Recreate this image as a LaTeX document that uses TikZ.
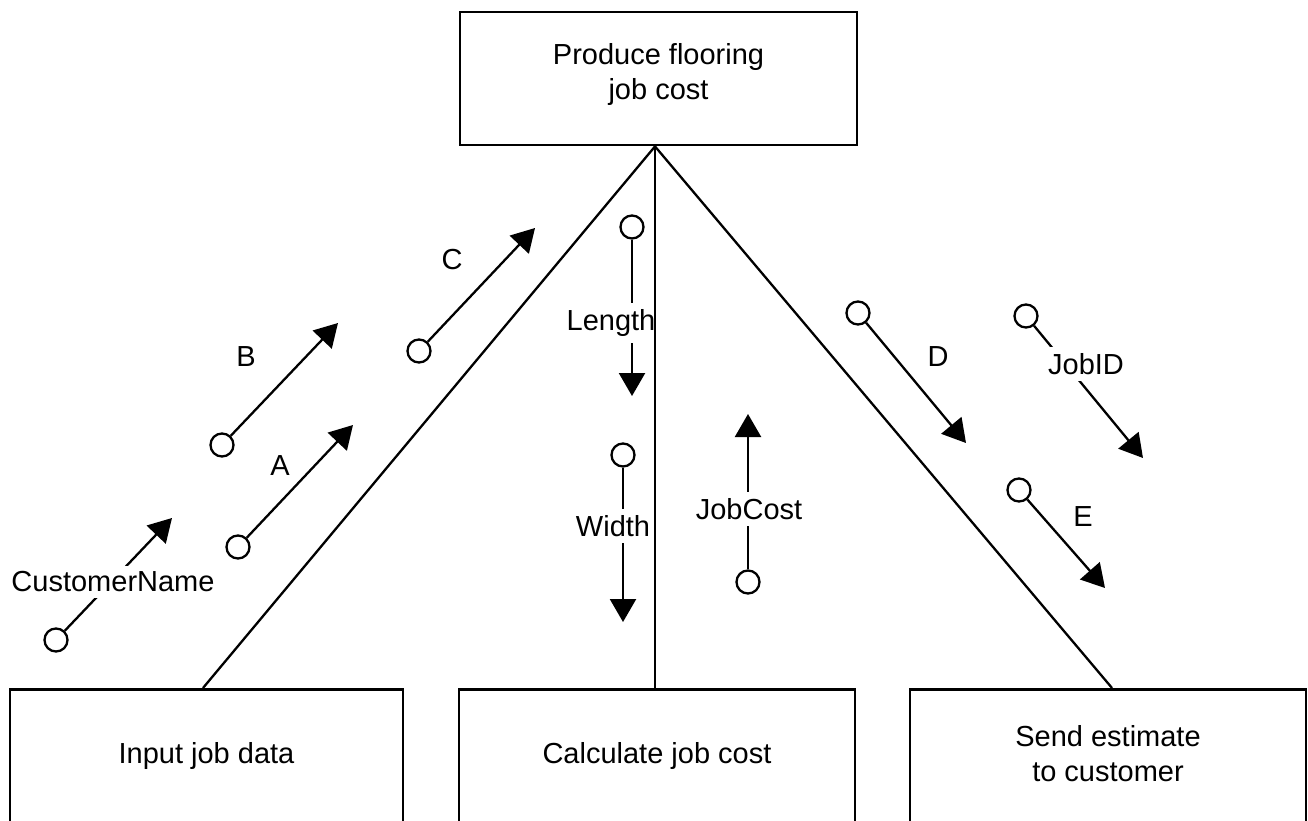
\documentclass[tikz,border=0pt]{standalone}
\usepackage{fontspec}
\setmainfont{Liberation Sans}
\usetikzlibrary{arrows.meta}
\tikzset{
  box/.style={draw, line width=2.8pt, inner sep=0pt},
  txt/.style={align=center, inner sep=0pt, font=\fontsize{29}{35}\selectfont},
  port/.style={circle, draw, fill=white, line width=2.3pt, minimum size=23pt, inner sep=0pt},
  flow/.style={line width=2.3pt, -{Triangle[length=23pt, width=26pt]}},
  lbl/.style={fill=white, inner xsep=1pt, inner ysep=6pt, font=\fontsize{29}{35}\selectfont},
  plain/.style={inner sep=0pt, font=\fontsize{29}{35}\selectfont},
  tree/.style={line width=2.3pt}
}
\begin{document}
\begin{tikzpicture}[x=1pt, y=-1pt]
\useasboundingbox (0,0) rectangle (1308,821);
\clip (0,0) rectangle (1308,821);

% boxes
\node[box, minimum width=397pt, minimum height=133pt] (top) at (658.5,78.5) {};
\node[txt] (toptxt) at (658.5,75) {Produce flooring\\job cost};

\node[box, minimum width=393pt, minimum height=180pt, anchor=north] (in) at (206.5,688) {};
\node[txt] (intxt) at (206.5,756) {Input job data};

\node[box, minimum width=396pt, minimum height=180pt, anchor=north] (calc) at (657,688) {};
\node[txt] (calctxt) at (657,756) {Calculate job cost};

\node[box, minimum width=396pt, minimum height=180pt, anchor=north] (send) at (1108,688) {};
\node[txt] (sendtxt) at (1108,754) {Send estimate\\to customer};

% CustomerName
\node[port] (cn) at (56,640) {};
\coordinate (cnt) at (172,518);
\draw[flow] (cn) -- (cnt);
\node[lbl] (cnl) at (113,582) {CustomerName};

% A
\node[port] (pa) at (238,547) {};
\coordinate (pat) at (353,425);
\draw[flow] (pa) -- (pat);
\node[plain] (la) at (280,466) {A};

% B
\node[port] (pb) at (222,445) {};
\coordinate (pbt) at (338,323);
\draw[flow] (pb) -- (pbt);
\node[plain] (lb) at (246,357) {B};

% C
\node[port] (pc) at (419,351) {};
\coordinate (pct) at (535,228);
\draw[flow] (pc) -- (pct);
\node[plain] (lc) at (452,260) {C};

% Length
\node[port] (pl) at (632,227) {};
\coordinate (plt) at (632,396);
\draw[flow] (pl) -- (plt);
\node[lbl] (ll) at (611,323) {Length};

% Width
\node[port] (pw) at (623,455) {};
\coordinate (pwt) at (623,622);
\draw[flow] (pw) -- (pwt);
\node[lbl] (lw) at (613,526) {Width};

% JobCost
\node[port] (pj) at (748,582) {};
\coordinate (pjt) at (748,414);
\draw[flow] (pj) -- (pjt);
\node[lbl] (lj) at (749,509) {JobCost};

% D
\node[port] (pd) at (858,313) {};
\coordinate (pdt) at (966,443);
\draw[flow] (pd) -- (pdt);
\node[plain] (ld) at (938,357) {D};

% JobID
\node[port] (pi) at (1026,316) {};
\coordinate (pit) at (1143,458);
\draw[flow] (pi) -- (pit);
\node[lbl] (li) at (1086,364) {JobID};

% E
\node[port] (pe) at (1019,490) {};
\coordinate (pet) at (1105,588);
\draw[flow] (pe) -- (pet);
\node[plain] (le) at (1083,517) {E};

% tree lines
\coordinate (apex) at ([xshift=-3.5pt]top.south);
\draw[tree] (apex) -- ([xshift=-3.5pt]in.north);
\draw[tree] (apex) -- ([xshift=-2pt]calc.north);
\draw[tree] (apex) -- ([xshift=4pt]send.north);
\end{tikzpicture}
\end{document}
